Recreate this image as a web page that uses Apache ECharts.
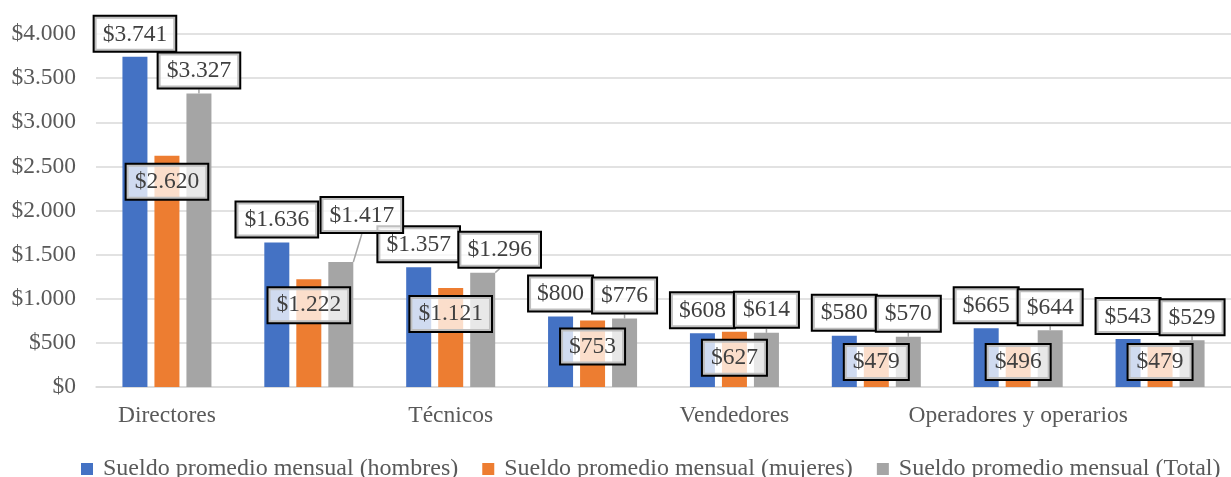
<!DOCTYPE html>
<html>
<head>
<meta charset="utf-8">
<script src="https://cdn.jsdelivr.net/npm/echarts@6/dist/echarts.min.js"></script>
<style>
    html, body { margin: 0; padding: 0; background: #fff; }
    #chart { width: 1231px; height: 477px; }
</style>
</head>
<body>
<div id="chart"></div>
<script>
    // categorias (solo se muestran una de cada dos, como en Excel)
    let categorias = ['Directores', 'Profesionales', 'Técnicos', 'Empleados de oficina',
        'Vendedores', 'Agricultores', 'Operadores y operarios', 'Ocupaciones elementales'];
    let hombres = [3741, 1636, 1357, 800, 608, 580, 665, 543];
    let mujeres = [2620, 1222, 1121, 753, 627, 479, 496, 479];
    let total = [3327, 1417, 1296, 776, 614, 570, 644, 529];
    let nombres = ['Sueldo promedio mensual (hombres)', 'Sueldo promedio mensual (mujeres)', 'Sueldo promedio mensual (Total)'];
    let ejeY = { min: 0, max: 4000, interval: 500 };

    let fuente = '"Liberation Serif", "Times New Roman", serif';

    let dinero = function (v) {
        return '$' + String(v).replace(/\B(?=(\d{3})+(?!\d))/g, '.');
    };

    let etiqueta = {
        show: true,
        formatter: function (p) { return dinero(p.value); },
        fontFamily: fuente,
        fontSize: 23.5,
        lineHeight: 27,
        color: '#404040',
        backgroundColor: 'rgba(255,255,255,0.75)',
        borderColor: '#000',
        borderWidth: 2,
        padding: [4, 8, 3, 8]
    };

    let chart = echarts.init(document.getElementById('chart'));

    chart.setOption({
        backgroundColor: '#fff',
        animation: false,
        color: ['#4472C4', '#ED7D31', '#A5A5A5'],
        grid: {
            left: 96,
            top: 34,
            width: 1146,
            height: 353
        },
        legend: {
            data: nombres,
            left: 76,
            top: 452,
            icon: 'rect',
            itemWidth: 12,
            itemHeight: 12,
            itemGap: 24,
            textStyle: {
                fontFamily: fuente,
                fontSize: 24,
                color: '#595959',
                padding: [0, 0, 0, 5]
            }
        },
        xAxis: {
            type: 'category',
            data: categorias,
            axisLine: { lineStyle: { color: '#D9D9D9', width: 1.5 } },
            axisTick: { show: false },
            axisLabel: {
                interval: 1,
                margin: 17,
                fontFamily: fuente,
                fontSize: 23.5,
                color: '#595959'
            }
        },
        yAxis: {
            type: 'value',
            min: ejeY.min,
            max: ejeY.max,
            interval: ejeY.interval,
            axisLine: { show: false },
            axisTick: { show: false },
            splitLine: { lineStyle: { color: '#D9D9D9', width: 1.5 } },
            axisLabel: {
                margin: 20,
                fontFamily: fuente,
                fontSize: 23.5,
                color: '#595959',
                formatter: dinero
            }
        },
        series: [
            {
                name: nombres[0],
                type: 'bar',
                data: hombres,
                barWidth: 25,
                barGap: '28%',
                label: Object.assign({}, etiqueta, { position: 'top', distance: 6 })
            },
            {
                name: nombres[1],
                type: 'bar',
                data: mujeres,
                barWidth: 25,
                barGap: '28%',
                label: Object.assign({}, etiqueta, { position: 'insideTop' }),
                // dentro de la barra, sin bajar del eje
                labelLayout: function (p) {
                    let r = p.rect;
                    let cy = Math.min(r.y + 26, r.y + r.height - 25);
                    return { x: r.x + r.width / 2, y: cy, align: 'center', verticalAlign: 'middle' };
                }
            },
            {
                name: nombres[2],
                type: 'bar',
                data: total,
                barWidth: 25,
                barGap: '28%',
                label: Object.assign({}, etiqueta, { position: 'top', distance: 6 }),
                labelLine: { show: true, lineStyle: { color: '#A5A5A5', width: 1.5 } },
                // se corren a la derecha para no pisar la etiqueta de hombres
                labelLayout: function (p) {
                    if (p.dataIndex === 1) return { dx: 21, dy: -24 };
                    if (p.dataIndex === 2) return { dx: 17, dy: 0 };
                    return {};
                }
            }
        ]
    });
</script>
</body>
</html>
